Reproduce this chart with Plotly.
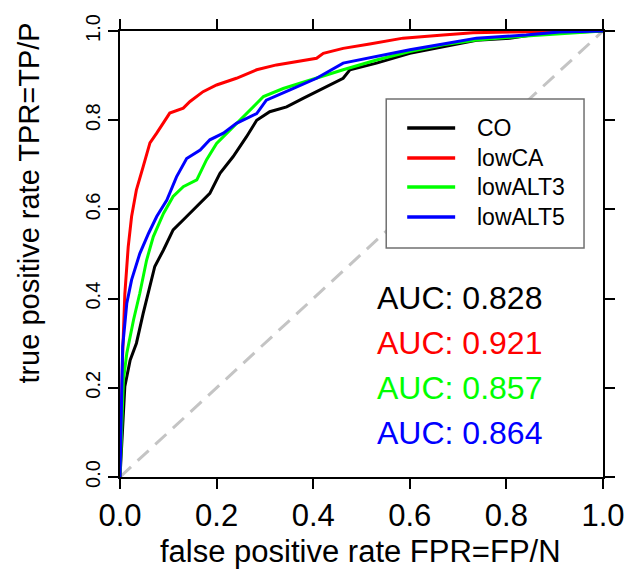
import plotly.graph_objects as go

# ---- data ----
series_names = ["CO", "lowCA", "lowALT3", "lowALT5"]
series_colors = ["#000000", "#FF0000", "#00FF00", "#0000FF"]
auc_values = [0.828, 0.921, 0.857, 0.864]

co_fpr = [0.0, 0.010, 0.021, 0.034, 0.048, 0.062, 0.072, 0.090, 0.110, 0.138, 0.166, 0.186,
          0.207, 0.234, 0.262, 0.283, 0.310, 0.345, 0.379, 0.421, 0.462, 0.476, 0.531, 0.600,
          0.669, 0.738, 0.807, 0.876, 1.0]
co_tpr = [0.0, 0.203, 0.262, 0.300, 0.367, 0.427, 0.472, 0.509, 0.554, 0.584, 0.614, 0.636,
          0.681, 0.718, 0.763, 0.800, 0.819, 0.830, 0.849, 0.871, 0.894, 0.913, 0.928, 0.950,
          0.965, 0.979, 0.984, 0.995, 1.0]

lowca_fpr = [0.0, 0.0055, 0.010, 0.017, 0.024, 0.034, 0.048, 0.062, 0.076, 0.090, 0.103, 0.131,
             0.145, 0.172, 0.200, 0.241, 0.283, 0.324, 0.366, 0.407, 0.421, 0.462, 0.517, 0.586,
             0.669, 0.731, 0.807, 1.0]
lowca_tpr = [0.0, 0.277, 0.410, 0.516, 0.584, 0.644, 0.696, 0.749, 0.771, 0.794, 0.816, 0.827,
             0.842, 0.864, 0.879, 0.894, 0.913, 0.924, 0.932, 0.939, 0.950, 0.961, 0.971, 0.984,
             0.991, 0.996, 0.998, 1.0]

lowalt3_fpr = [0.0, 0.007, 0.014, 0.028, 0.041, 0.055, 0.069, 0.090, 0.110, 0.131, 0.159, 0.179,
               0.200, 0.228, 0.262, 0.297, 0.338, 0.393, 0.462, 0.531, 0.600, 0.669, 0.738,
               0.841, 0.945, 1.0]
lowalt3_tpr = [0.0, 0.217, 0.277, 0.352, 0.412, 0.486, 0.539, 0.591, 0.629, 0.651, 0.666, 0.711,
               0.748, 0.778, 0.815, 0.853, 0.871, 0.890, 0.913, 0.935, 0.954, 0.969, 0.980,
               0.989, 0.996, 1.0]

lowalt5_fpr = [0.0, 0.0055, 0.014, 0.024, 0.041, 0.059, 0.076, 0.097, 0.117, 0.138, 0.166, 0.186,
               0.214, 0.241, 0.283, 0.303, 0.352, 0.407, 0.462, 0.531, 0.600, 0.669, 0.738,
               0.841, 0.910, 1.0]
lowalt5_tpr = [0.0, 0.292, 0.389, 0.442, 0.501, 0.546, 0.584, 0.621, 0.673, 0.714, 0.733, 0.756,
               0.771, 0.793, 0.815, 0.845, 0.868, 0.894, 0.928, 0.943, 0.958, 0.971, 0.984,
               0.991, 0.998, 1.0]

chance_x = [0.0, 1.0]
chance_y = [0.0, 1.0]

tick_vals = [0.0, 0.2, 0.4, 0.6, 0.8, 1.0]
tick_text = ["0.0", "0.2", "0.4", "0.6", "0.8", "1.0"]

x_title = "false positive rate FPR=FP/N"
y_title = "true positive rate TPR=TP/P"

FONT = "Liberation Sans, Arial, Helvetica, sans-serif"

fig = go.Figure()

fig.add_trace(go.Scatter(x=chance_x, y=chance_y, mode="lines",
                         line=dict(color="#C4C4C4", width=3, dash="15px,9px"),
                         showlegend=False, hoverinfo="skip"))

curves = [(co_fpr, co_tpr), (lowca_fpr, lowca_tpr), (lowalt3_fpr, lowalt3_tpr), (lowalt5_fpr, lowalt5_tpr)]
for (xs, ys), name, col in zip(curves, series_names, series_colors):
    fig.add_trace(go.Scatter(x=xs, y=ys, mode="lines", name=name,
                             line=dict(color=col, width=3), showlegend=False))

# ---- hand-drawn R-style legend box ----
W, H = 628, 581
L, R, T, B = 119.5, 25, 31, 104
pw = W - L - R
ph = H - T - B

def px_x(p):
    return (p - L) / pw

def px_y(p):
    return (H - B - p) / ph

fig.add_shape(type="rect", xref="paper", yref="paper",
              x0=px_x(386), x1=px_x(584), y0=px_y(248), y1=px_y(99),
              line=dict(color="#707070", width=1.5), fillcolor="white", layer="above")

legend_rows = [128, 158, 187, 217]
for name, col, ry in zip(series_names, series_colors, legend_rows):
    fig.add_shape(type="line", xref="paper", yref="paper",
                  x0=px_x(407), x1=px_x(455), y0=px_y(ry), y1=px_y(ry),
                  line=dict(color=col, width=3.5), layer="above")
    fig.add_annotation(xref="paper", yref="paper", x=px_x(475), y=px_y(ry),
                       text=name, showarrow=False, xanchor="left", yanchor="middle",
                       font=dict(family=FONT, size=23, color="#000000"))

auc_rows = [298, 343, 388, 433]
for val, col, ry in zip(auc_values, series_colors, auc_rows):
    fig.add_annotation(xref="paper", yref="paper", x=px_x(459), y=px_y(ry),
                       text=f"AUC: {val:.3f}", showarrow=False, xanchor="center", yanchor="middle",
                       font=dict(family=FONT, size=32, color=col))

# axis titles
fig.add_annotation(xref="paper", yref="paper", x=px_x(360), y=px_y(551),
                   text=x_title, showarrow=False, xanchor="center", yanchor="middle",
                   font=dict(family=FONT, size=31, color="#000000"))
fig.add_annotation(xref="paper", yref="paper", x=px_x(28), y=px_y(203),
                   text=y_title, showarrow=False, textangle=-90, xanchor="center", yanchor="middle",
                   font=dict(family=FONT, size=29, color="#000000"))

axis_common = dict(range=[0, 1], showgrid=False, zeroline=False, showline=True,
                   linecolor="#000000", linewidth=1.5, mirror="ticks", ticks="outside",
                   ticklen=10, tickwidth=1.5, tickcolor="#000000", automargin=False,
                   tickvals=tick_vals, ticktext=tick_text)

fig.update_xaxes(**axis_common, tickfont=dict(family=FONT, size=31, color="#000000"))
fig.update_yaxes(**axis_common, tickangle=-90, tickfont=dict(family=FONT, size=20, color="#000000"))

fig.update_layout(width=W, height=H, margin=dict(l=L, r=R, t=T, b=B, pad=0, autoexpand=False),
                  paper_bgcolor="white", plot_bgcolor="white", showlegend=False)

fig.write_html("out.html", config={"displayModeBar": False},
               post_script="document.body.style.margin='0px';document.body.style.overflow='hidden';")
